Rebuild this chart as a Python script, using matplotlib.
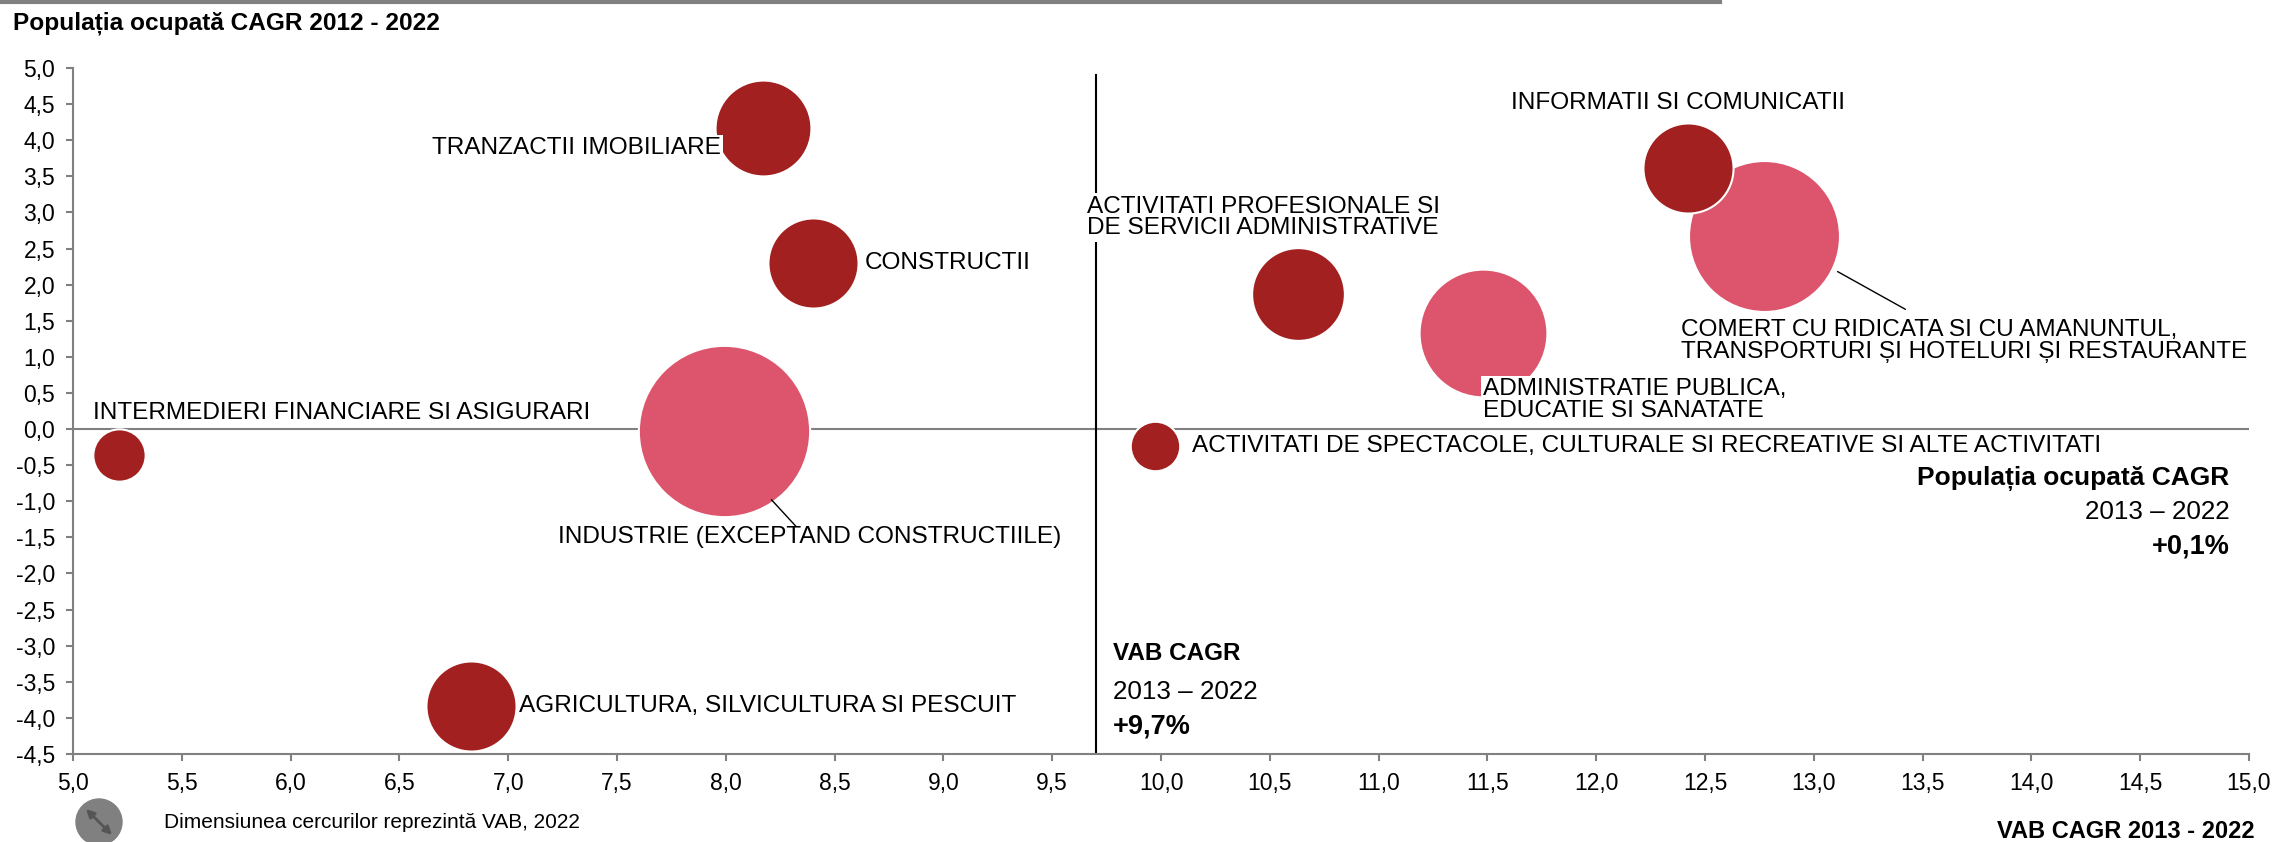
import matplotlib
matplotlib.use("Agg")
import matplotlib.pyplot as plt
from matplotlib.patches import Circle, FancyArrowPatch
from matplotlib.ticker import FuncFormatter, MultipleLocator

plt.rcParams['font.family'] = ['Liberation Sans', 'DejaVu Sans']

# data
sectors = ["TRANZACTII IMOBILIARE", "CONSTRUCTII", "INTERMEDIERI FINANCIARE SI ASIGURARI",
           "INDUSTRIE (EXCEPTAND CONSTRUCTIILE)", "AGRICULTURA, SILVICULTURA SI PESCUIT",
           "ACTIVITATI PROFESIONALE SI\nDE SERVICII ADMINISTRATIVE",
           "ACTIVITATI DE SPECTACOLE, CULTURALE SI RECREATIVE SI ALTE ACTIVITATI",
           "ADMINISTRATIE PUBLICA,\nEDUCATIE SI SANATATE",
           "COMERT CU RIDICATA SI CU AMANUNTUL,\nTRANSPORTURI ȘI HOTELURI ȘI RESTAURANTE",
           "INFORMATII SI COMUNICATII"]
vab_cagr = [8.17, 8.40, 5.21, 7.99, 6.83, 10.63, 9.97, 11.48, 12.77, 12.42]
pop_cagr = [4.17, 2.30, -0.36, -0.02, -3.84, 1.87, -0.24, 1.33, 2.68, 3.61]
vab_2022 = [94, 83, 28, 300, 83, 88, 25, 167, 233, 83]
large = [False, False, False, True, False, False, False, True, True, False]
avg_vab_cagr = 9.7
avg_pop_cagr = 0.1

DARK = "#A32020"
PINK = "#DC556C"
GRAY = "#808080"

# label anchors: (x, y, ha)
label_pos = [(7.975, 3.89, "right"), (8.64, 2.30, "left"), (5.09, 0.22, "left"),
             (7.23, -1.49, "left"), (7.05, -3.84, "left"), (9.66, 2.93, "left"),
             (10.14, -0.24, "left"), (11.48, 0.40, "left"), (12.39, 1.22, "left"),
             (11.61, 4.52, "left")]
leaders = {3: ((8.21, -0.98), (8.32, -1.34)), 8: ((13.11, 2.18), (13.42, 1.66))}

fig = plt.figure(figsize=(22.77, 8.42), dpi=100)
ax = fig.add_axes([0.0321, 0.1045, 0.9556, 0.8147])

for i in range(len(sectors)):
    ax.scatter(vab_cagr[i], pop_cagr[i], s=vab_2022[i] * 50.7, color=PINK if large[i] else DARK,
               edgecolors="white", linewidths=1.5, zorder=3)

ax.plot([5, 15], [0, 0], color=GRAY, lw=1.5, zorder=1)
ax.plot([avg_vab_cagr, avg_vab_cagr], [-4.5, 4.9], color="black", lw=1.5, zorder=1)

for i, (lx, ly, ha) in enumerate(label_pos):
    bb = None if i == 2 else dict(facecolor="white", edgecolor="none", pad=1.5)
    ax.text(lx, ly, sectors[i], ha=ha, va="center", fontsize=17.6, linespacing=0.98,
            bbox=bb, zorder=4)
for (p0, p1) in leaders.values():
    ax.plot([p0[0], p1[0]], [p0[1], p1[1]], color="black", lw=1, zorder=4)

fmt_pct = lambda v: ("+%.1f%%" % v).replace(".", ",")
# VAB CAGR block
ax.text(9.78, -3.11, "VAB CAGR", fontsize=17.5, fontweight="bold", va="center", zorder=4)
ax.text(9.78, -3.64, "2013 – 2022", fontsize=18.7, va="center", zorder=4)
ax.text(9.78, -4.12, fmt_pct(avg_vab_cagr), fontsize=19.5, fontweight="bold", va="center",
        zorder=4)
# population block
ax.text(14.91, -0.69, "Populația ocupată CAGR", fontsize=19, fontweight="bold", va="center",
        ha="right", zorder=4)
ax.text(14.91, -1.15, "2013 – 2022", fontsize=18.7, va="center", ha="right", zorder=4)
ax.text(14.91, -1.63, fmt_pct(avg_pop_cagr), fontsize=19.5, fontweight="bold", va="center",
        ha="right", zorder=4)

ax.set_xlim(5, 15)
ax.set_ylim(-4.5, 5)
ax.xaxis.set_major_locator(MultipleLocator(0.5))
ax.yaxis.set_major_locator(MultipleLocator(0.5))
comma = FuncFormatter(lambda v, p: ("%.1f" % v).replace(".", ","))
ax.xaxis.set_major_formatter(comma)
ax.yaxis.set_major_formatter(comma)
ax.tick_params(direction="out", length=5, width=1.5, color=GRAY, labelsize=16.5, pad=8)
for s in ["top", "right"]:
    ax.spines[s].set_visible(False)
for s in ["left", "bottom"]:
    ax.spines[s].set_color(GRAY)
    ax.spines[s].set_linewidth(1.5)

fig.text(13 / 2277, 1 - 23 / 842, "Populația ocupată CAGR 2012 - 2022", fontsize=17.6,
         fontweight="bold", va="center", ha="left")
fig.text(2255 / 2277, 1 - 832 / 842, "VAB CAGR 2013 - 2022", fontsize=17, fontweight="bold",
         va="center", ha="right")
fig.add_artist(plt.Line2D([0, 1720 / 2277], [1 - 2 / 842, 1 - 2 / 842], color=GRAY, lw=3))

# size legend
lax = fig.add_axes([(99 - 25) / 2277, 1 - (822 + 25) / 842, 50 / 2277, 50 / 842])
lax.set_xlim(-1, 1); lax.set_ylim(-1, 1); lax.axis("off")
lax.add_patch(Circle((0, 0), 0.92, color=GRAY))
lax.add_patch(FancyArrowPatch((-0.6, 0.6), (0.6, -0.6), arrowstyle="<|-|>", mutation_scale=12,
                              color="#555555", lw=2))
fig.text(164 / 2277, 1 - 822 / 842, "Dimensiunea cercurilor reprezintă VAB, 2022", fontsize=15,
         va="center", ha="left")

fig.savefig("out.png", dpi=100)
